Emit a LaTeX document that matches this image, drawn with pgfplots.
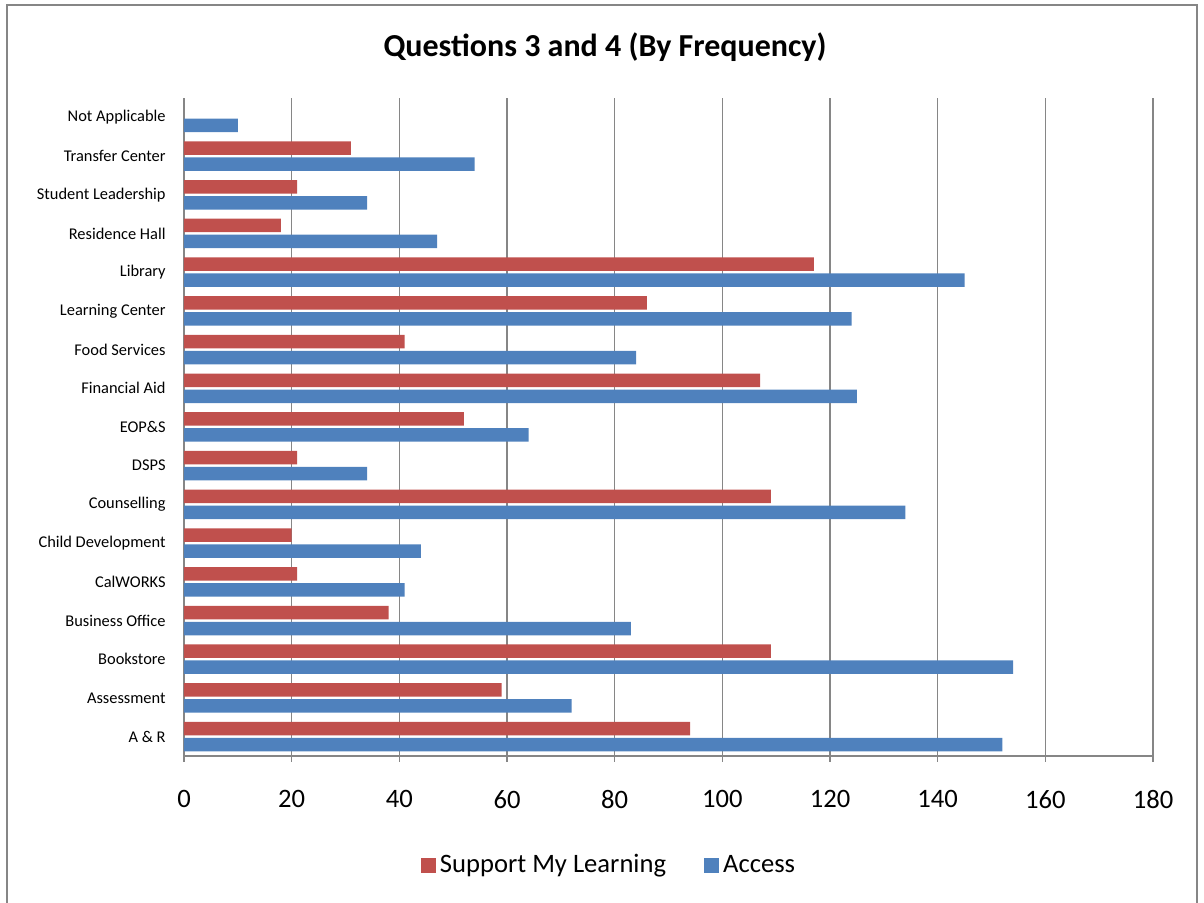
\documentclass[border=0pt]{standalone}
\usepackage{fontspec}
\setmainfont{Carlito}
\usepackage{pgfplots}
\pgfplotsset{compat=1.18}
\definecolor{smred}{HTML}{C0504D}
\definecolor{acblue}{HTML}{4F81BD}
\definecolor{gridgray}{HTML}{868686}
\begin{document}
\begin{tikzpicture}
\useasboundingbox (-92pt,-73.5pt) rectangle (510pt,378pt);
\draw[gridgray, line width=1.2pt] (-88.5pt,-90pt) -- (-88.5pt,375.5pt) -- (506.5pt,375.5pt) -- (506.5pt,-90pt);
\begin{axis}[
  at={(0pt,0pt)}, anchor=south west,
  scale only axis, width=484.5pt, height=329pt,
  xmin=0, xmax=180, xtick={0,20,...,180},
  ymin=-0.5, ymax=16.5,
  ytick={0,...,16},
  yticklabels={A \& R, Assessment, Bookstore, Business Office, CalWORKS, Child Development, Counselling, DSPS, EOP\&S, Financial Aid, Food Services, Learning Center, Library, Residence Hall, Student Leadership, Transfer Center, Not Applicable},
  xbar, bar width=6.75pt,
  axis lines*=left,
  axis line style={gridgray, line width=0.6pt, -},
  xmajorgrids, grid style={gridgray, line width=0.6pt},
  ytick style={draw=none},
  xtick style={gridgray, line width=0.6pt},
  tick align=outside, major tick length=3pt,
  /pgf/number format/assume math mode=true,
  y tick label style={font=\fontsize{8.2}{10}\selectfont, inner sep=0pt, anchor=east, xshift=-6pt},
  x tick label style={font=\fontsize{13.3}{15}\selectfont, inner sep=0pt, anchor=north, yshift=-14pt},
  legend style={at={(0.4396,-0.1657)}, anchor=center, draw=none, fill=none, legend columns=2,
    font=\fontsize{13.3}{15}\selectfont,
    /tikz/every even column/.append style={column sep=17pt}},
  legend image code/.code={\fill[#1] (0pt,-3.75pt) rectangle (7.5pt,3.75pt);},
]
\addplot[fill=smred, draw=none, bar shift=4pt] coordinates {
(94,0) (59,1) (109,2) (38,3) (21,4) (20,5) (109,6) (21,7) (52,8) (107,9) (41,10) (86,11) (117,12) (18,13) (21,14) (31,15)};
\addlegendentry{Support My Learning}
\addplot[fill=acblue, draw=none, bar shift=-4pt] coordinates {
(152,0) (72,1) (154,2) (83,3) (41,4) (44,5) (134,6) (34,7) (64,8) (125,9) (84,10) (124,11) (145,12) (47,13) (34,14) (54,15) (10,16)};
\addlegendentry{Access}
\end{axis}
\node at (210.5pt,354.5pt) {\fontsize{16}{18}\selectfont\bfseries Questions 3 and 4 (By Frequency)};
\end{tikzpicture}
\end{document}
